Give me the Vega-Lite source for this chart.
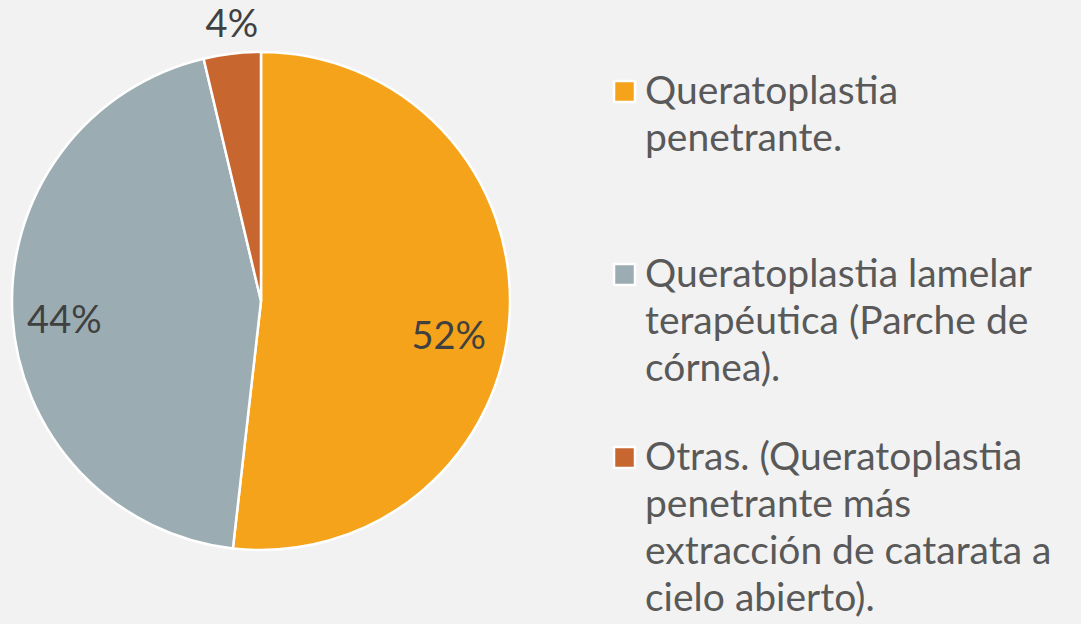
{
  "$schema": "https://vega.github.io/schema/vega-lite/v6.json",
  "width": 522,
  "height": 602,
  "padding": {"left": 0, "top": 0, "right": 559, "bottom": 22},
  "autosize": {"type": "none"},
  "background": "#f2f2f2",
  "config": {"view": {"stroke": null}},
  "data": {
    "values": [
      {"orden": 1, "categoria": "Queratoplastia penetrante.", "porcentaje": 51.8, "etiqueta": "52%"},
      {"orden": 2, "categoria": "Queratoplastia lamelar terapéutica (Parche de córnea).", "porcentaje": 44.5, "etiqueta": "44%"},
      {"orden": 3, "categoria": "Otras. (Queratoplastia penetrante más extracción de catarata a cielo abierto).", "porcentaje": 3.7, "etiqueta": "4%"}
    ]
  },
  "encoding": {
    "theta": {"field": "porcentaje", "type": "quantitative", "stack": true},
    "order": {"field": "orden", "type": "quantitative"}
  },
  "layer": [
    {
      "mark": {"type": "arc", "outerRadius": 249, "stroke": "#ffffff", "strokeWidth": 2.5},
      "encoding": {
        "color": {
          "field": "categoria",
          "type": "nominal",
          "scale": {
            "domain": [
              "Queratoplastia penetrante.",
              "Queratoplastia lamelar terapéutica (Parche de córnea).",
              "Otras. (Queratoplastia penetrante más extracción de catarata a cielo abierto)."
            ],
            "range": ["#F5A31B", "#9BADB3", "#C86630"]
          },
          "legend": {
            "orient": "none",
            "legendX": 605,
            "legendY": 72,
            "title": null,
            "symbolType": "square",
            "symbolSize": 441,
            "symbolStrokeColor": "#ffffff",
            "symbolStrokeWidth": 2.5,
            "symbolOpacity": 1,
            "labelFont": "Lato",
            "labelFontSize": 39,
            "labelColor": "#595959",
            "labelLimit": 600,
            "labelOffset": 1,
            "rowPadding": 2,
            "gridAlign": "all",
            "labelExpr": "datum.label == 'Queratoplastia penetrante.' ? ['Queratoplastia', 'penetrante.'] : datum.label == 'Queratoplastia lamelar terapéutica (Parche de córnea).' ? ['Queratoplastia lamelar', 'terapéutica (Parche de', 'córnea).'] : ['Otras. (Queratoplastia', 'penetrante más', 'extracción de catarata a', 'cielo abierto).']",
            "encode": {
              "labels": {"update": {"lineHeight": {"value": 47}}}
            }
          }
        }
      }
    },
    {
      "mark": {"type": "text", "radius": 188, "dy": 26, "font": "Lato", "fontSize": 38, "fill": "#404040"},
      "encoding": {
        "text": {"condition": {"test": "datum.orden == 1", "field": "etiqueta", "type": "nominal"}, "value": ""}
      }
    },
    {
      "mark": {"type": "text", "radius": 197, "dy": 9, "font": "Lato", "fontSize": 38, "fill": "#404040"},
      "encoding": {
        "text": {"condition": {"test": "datum.orden == 2", "field": "etiqueta", "type": "nominal"}, "value": ""}
      }
    },
    {
      "mark": {"type": "text", "radius": 277, "dx": 3, "font": "Lato", "fontSize": 38, "fill": "#404040"},
      "encoding": {
        "text": {"condition": {"test": "datum.orden == 3", "field": "etiqueta", "type": "nominal"}, "value": ""}
      }
    }
  ]
}
